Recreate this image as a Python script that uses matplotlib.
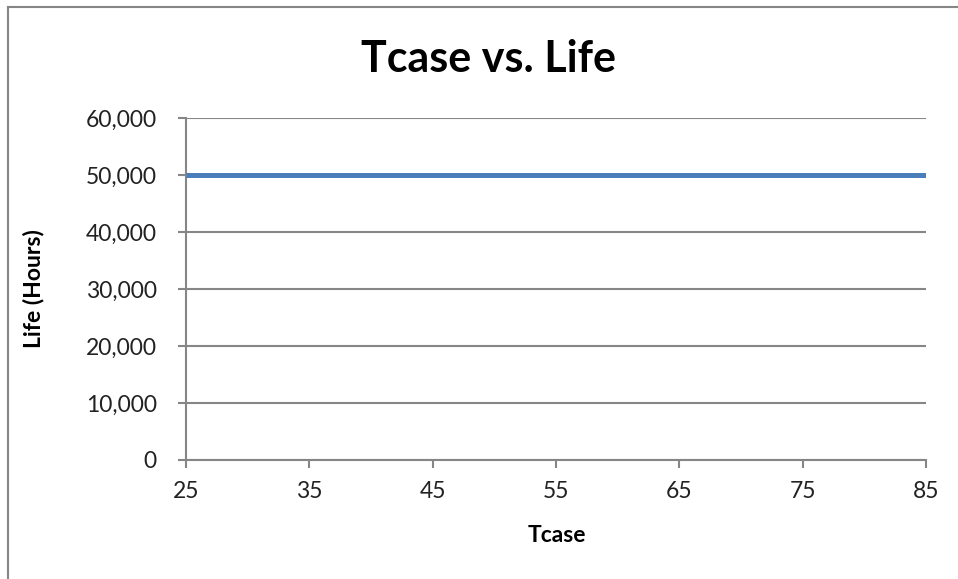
import matplotlib
matplotlib.use("Agg")
import matplotlib.pyplot as plt
from matplotlib.lines import Line2D

tcase = [25, 35, 45, 55, 65, 75, 85]
life_hours = [50000, 50000, 50000, 50000, 50000, 50000, 50000]
x_ticks = [25, 35, 45, 55, 65, 75, 85]
y_ticks = [0, 10000, 20000, 30000, 40000, 50000, 60000]

GRID = "#868686"
LINE = "#4a7ebb"
FONT = ["Lato", "DejaVu Sans"]

plt.rcParams["font.family"] = FONT

fig = plt.figure(figsize=(9.58, 5.79), dpi=100)
W, H = 958, 579
ax = fig.add_axes([186 / W, 1 - 460 / H, (926 - 186) / W, (460 - 118) / H])

# chart-area border: only its left and top edges fall inside the picture
bx, by = 7.5 / W, 1 - 6.5 / H
fig.add_artist(Line2D([bx, bx], [0, by], transform=fig.transFigure,
                      color=GRID, linewidth=1.5))
fig.add_artist(Line2D([bx, 1], [by, by], transform=fig.transFigure,
                      color=GRID, linewidth=1.5))

ax.plot(tcase, life_hours, color=LINE, linewidth=3.6, solid_capstyle="butt",
        zorder=3)

ax.set_xlim(25, 85)
ax.set_ylim(0, 60000)
ax.set_xticks(x_ticks)
ax.set_yticks(y_ticks)
ax.set_yticklabels([f"{v:,}" for v in y_ticks])
ax.grid(axis="y", color=GRID, linewidth=1.5)
ax.set_axisbelow(True)

for side in ("top", "right"):
    ax.spines[side].set_visible(False)
for side in ("left", "bottom"):
    ax.spines[side].set_color(GRID)
    ax.spines[side].set_linewidth(1.5)

ax.tick_params(axis="both", colors=GRID, labelcolor="#222222", labelsize=16.5,
               length=6, width=1.5, direction="out")
ax.tick_params(axis="y", pad=15)
ax.tick_params(axis="x", pad=9)

fig.text(557 / W, 1 - 535 / H, "Tcase", fontsize=16.5, fontweight="bold",
         ha="center", va="center")
fig.text(34 / W, 1 - 289 / H, "Life (Hours)", fontsize=16.5, fontweight="bold",
         ha="center", va="center", rotation=90)
fig.text(488 / W, 1 - 59 / H, "Tcase vs. Life", fontsize=31, fontweight="bold",
         ha="center", va="center")

fig.savefig("out.png", dpi=100, facecolor="white")
